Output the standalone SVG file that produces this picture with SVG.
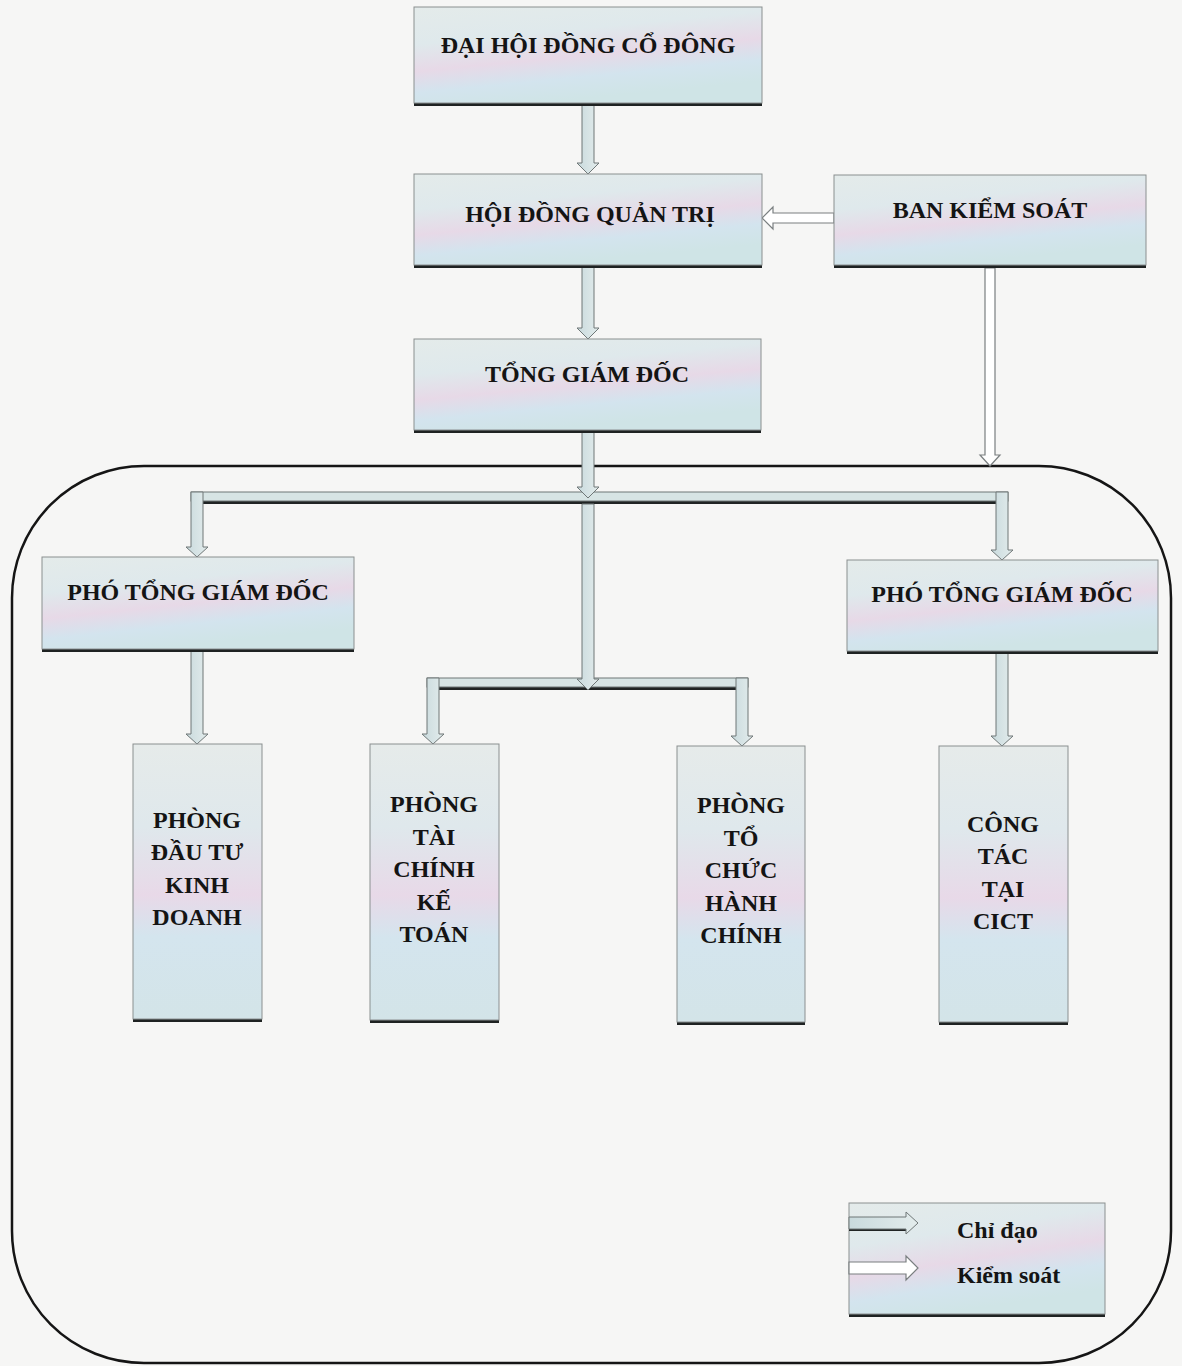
<svg xmlns="http://www.w3.org/2000/svg" width="1182" height="1366" viewBox="0 0 1182 1366">
<defs>
<linearGradient id="boxg" x1="0" y1="0" x2="0.35" y2="1">
<stop offset="0" stop-color="#e4ebea"/>
<stop offset="0.35" stop-color="#dfe9ec"/>
<stop offset="0.6" stop-color="#e7d9e7"/>
<stop offset="0.8" stop-color="#d3e4ee"/>
<stop offset="1" stop-color="#cfe4e6"/>
</linearGradient>
<linearGradient id="boxv" x1="0" y1="0" x2="0" y2="1">
<stop offset="0" stop-color="#e6ebea"/>
<stop offset="0.3" stop-color="#dfe8ec"/>
<stop offset="0.55" stop-color="#e8d9e8"/>
<stop offset="0.7" stop-color="#d4e5ee"/>
<stop offset="1" stop-color="#d3e4e8"/>
</linearGradient>
<linearGradient id="arrg" x1="0" y1="0" x2="1" y2="0">
<stop offset="0" stop-color="#c9dadd"/>
<stop offset="1" stop-color="#e3ecec"/>
</linearGradient>
</defs>
<style>
.box{stroke:#8a8f90;stroke-width:1;}
.shadow{fill:#1e2222;}
.lbl{font-family:"Liberation Serif","Times New Roman",serif;font-weight:bold;font-size:24px;fill:#141414;text-anchor:middle;}
.cd{fill:url(#arrg);stroke:#6f7777;stroke-width:1;}
.ks{fill:#ffffff;stroke:#7a7f80;stroke-width:1.2;}
.bar{fill:#d7e4e4;stroke:#6f7777;stroke-width:1;}
.barsh{fill:#202424;}
</style>
<rect x="0" y="0" width="1182" height="1366" fill="#f6f6f5"/>

<g id="container">
<rect x="12" y="466" width="1159" height="897" rx="132" ry="132" fill="none" stroke="#151515" stroke-width="2.5"/>
</g>

<g id="connectors">
<!-- Chỉ đạo arrows -->
<path class="cd" d="M582,104 L594,104 L594,163 L599,163 L588,174 L577,163 L582,163 Z"/>
<path class="cd" d="M582,267 L594,267 L594,328 L599,328 L588,339 L577,328 L582,328 Z"/>
<!-- upper bar -->
<rect class="barsh" x="191" y="500" width="817" height="4"/>
<rect class="bar" x="191" y="492" width="817" height="9"/>
<path class="cd" d="M582,432 L594,432 L594,487 L599,487 L588,498 L577,487 L582,487 Z"/>
<path class="cd" d="M191,492 L203,492 L203,547 L208,547 L197,557 L186,547 L191,547 Z"/>
<path class="cd" d="M996,492 L1008,492 L1008,550 L1013,550 L1002,560 L991,550 L996,550 Z"/>
<!-- trunk lower -->
<rect class="barsh" x="427" y="686" width="321" height="4"/>
<rect class="bar" x="427" y="678" width="321" height="9"/>
<path class="cd" d="M582,504 L594,504 L594,679 L599,679 L588,690 L577,679 L582,679 Z"/>
<path class="cd" d="M427,678 L439,678 L439,734 L444,734 L433,744 L422,734 L427,734 Z"/>
<path class="cd" d="M736,678 L748,678 L748,736 L753,736 L742,746 L731,736 L736,736 Z"/>
<path class="cd" d="M191,651 L203,651 L203,734 L208,734 L197,744 L186,734 L191,734 Z"/>
<path class="cd" d="M996,653 L1008,653 L1008,736 L1013,736 L1002,746 L991,736 L996,736 Z"/>
<!-- Kiểm soát arrows -->
<path class="ks" d="M834,213 L834,223 L773,223 L773,229 L762,218 L773,207 L773,213 Z"/>
<path class="ks" d="M985,268 L995,268 L995,455 L1000,455 L990,466 L980,455 L985,455 Z"/>
</g>

<g id="n_dhdcd">
<rect class="shadow" x="414" y="9" width="348" height="97"/>
<rect class="box" x="414" y="7" width="348" height="96" fill="url(#boxg)"/>
<text class="lbl" x="588" y="53">ĐẠI HỘI ĐỒNG CỔ ĐÔNG</text>
</g>
<g id="n_hdqt">
<rect class="shadow" x="414" y="176" width="348" height="92"/>
<rect class="box" x="414" y="174" width="348" height="91" fill="url(#boxg)"/>
<text class="lbl" x="590" y="222">HỘI ĐỒNG QUẢN TRỊ</text>
</g>
<g id="n_bks">
<rect class="shadow" x="834" y="177" width="312" height="91"/>
<rect class="box" x="834" y="175" width="312" height="90" fill="url(#boxg)"/>
<text class="lbl" x="990" y="218">BAN KIỂM SOÁT</text>
</g>
<g id="n_tgd">
<rect class="shadow" x="414" y="341" width="347" height="92"/>
<rect class="box" x="414" y="339" width="347" height="91" fill="url(#boxg)"/>
<text class="lbl" x="587" y="382">TỔNG GIÁM ĐỐC</text>
</g>
<g id="n_ptgd1">
<rect class="shadow" x="42" y="560" width="312" height="92"/>
<rect class="box" x="42" y="557" width="312" height="92" fill="url(#boxg)"/>
<text class="lbl" x="198" y="600">PHÓ TỔNG GIÁM ĐỐC</text>
</g>
<g id="n_ptgd2">
<rect class="shadow" x="847" y="562" width="311" height="92"/>
<rect class="box" x="847" y="560" width="311" height="91" fill="url(#boxg)"/>
<text class="lbl" x="1002" y="602">PHÓ TỔNG GIÁM ĐỐC</text>
</g>
<g id="n_dtkd">
<rect class="shadow" x="133" y="746" width="129" height="276"/>
<rect class="box" x="133" y="744" width="129" height="275" fill="url(#boxv)"/>
<text class="lbl" x="197" y="828">PHÒNG</text>
<text class="lbl" x="197" y="860">ĐẦU TƯ</text>
<text class="lbl" x="197" y="893">KINH</text>
<text class="lbl" x="197" y="925">DOANH</text>
</g>
<g id="n_tckt">
<rect class="shadow" x="370" y="746" width="129" height="277"/>
<rect class="box" x="370" y="744" width="129" height="276" fill="url(#boxv)"/>
<text class="lbl" x="434" y="812">PHÒNG</text>
<text class="lbl" x="434" y="845">TÀI</text>
<text class="lbl" x="434" y="877">CHÍNH</text>
<text class="lbl" x="434" y="910">KẾ</text>
<text class="lbl" x="434" y="942">TOÁN</text>
</g>
<g id="n_tchc">
<rect class="shadow" x="677" y="748" width="128" height="277"/>
<rect class="box" x="677" y="746" width="128" height="276" fill="url(#boxv)"/>
<text class="lbl" x="741" y="813">PHÒNG</text>
<text class="lbl" x="741" y="846">TỔ</text>
<text class="lbl" x="741" y="878">CHỨC</text>
<text class="lbl" x="741" y="911">HÀNH</text>
<text class="lbl" x="741" y="943">CHÍNH</text>
</g>
<g id="n_cict">
<rect class="shadow" x="939" y="748" width="129" height="277"/>
<rect class="box" x="939" y="746" width="129" height="276" fill="url(#boxv)"/>
<text class="lbl" x="1003" y="832">CÔNG</text>
<text class="lbl" x="1003" y="864">TÁC</text>
<text class="lbl" x="1003" y="897">TẠI</text>
<text class="lbl" x="1003" y="929">CICT</text>
</g>

<g id="legend">
<rect class="shadow" x="849" y="1205" width="256" height="112"/>
<rect class="box" x="849" y="1203" width="256" height="111" fill="url(#boxg)"/>
<rect class="barsh" x="849" y="1227" width="58" height="4"/>
<path class="cd" d="M849,1217 L906,1217 L906,1212 L918,1223 L906,1234 L906,1229 L849,1229 Z"/>
<path class="ks" d="M849,1262 L906,1262 L906,1256 L918,1268 L906,1280 L906,1274 L849,1274 Z"/>
<text class="lbl" x="957" y="1238" text-anchor="start" style="text-anchor:start">Chỉ  đạo</text>
<text class="lbl" x="957" y="1283" style="text-anchor:start">Kiểm soát</text>
</g>
</svg>
